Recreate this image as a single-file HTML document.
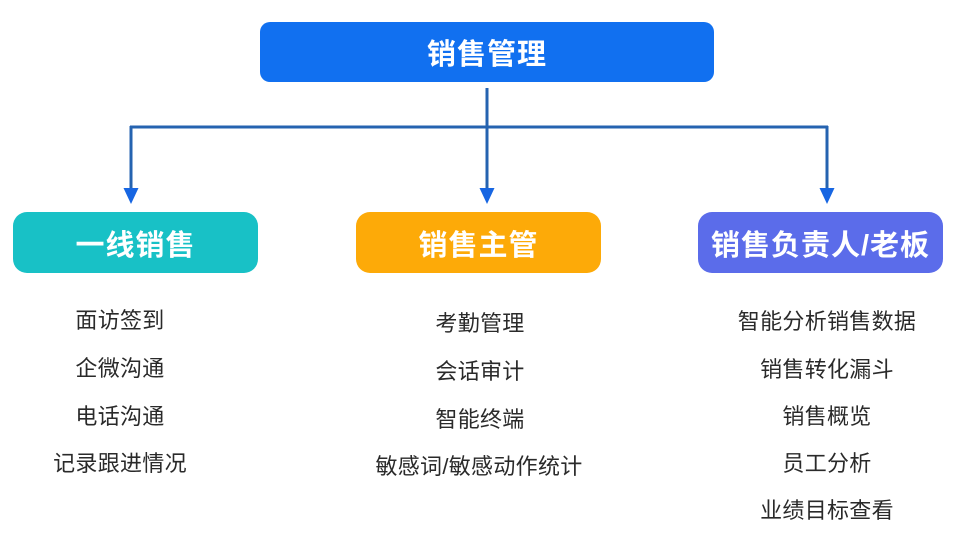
<!DOCTYPE html>
<html><head><meta charset="utf-8"><style>
html,body{margin:0;padding:0;background:#fff;}
body{width:961px;height:536px;position:relative;overflow:hidden;font-family:"Liberation Sans","Noto Sans CJK SC",sans-serif;}
.box{position:absolute;border-radius:10px;color:#fff;font-weight:bold;font-size:29px;display:flex;align-items:center;justify-content:center;letter-spacing:1px;}
.item{position:absolute;font-size:22px;color:#2a2a2a;transform:translate(-50%,-50%);white-space:nowrap;letter-spacing:0.3px;}
</style></head><body>
<svg width="961" height="536" style="position:absolute;left:0;top:0">
<g stroke="#2563B0" stroke-width="3" fill="none">
<line x1="487" y1="88" x2="487" y2="192"/>
<line x1="130" y1="127" x2="828" y2="127"/>
<line x1="131" y1="126" x2="131" y2="192"/>
<line x1="827" y1="126" x2="827" y2="192"/>
</g>
<g fill="#1766E2">
<polygon points="123.5,188 138.5,188 131,204"/>
<polygon points="479.5,188 494.5,188 487,204"/>
<polygon points="819.5,188 834.5,188 827,204"/>
</g>
</svg>
<div class="box" style="left:260px;top:22px;width:454px;height:60px;background:#1170F0;">销售管理</div>
<div class="box" style="left:13px;top:212px;width:245px;height:61px;background:#18C1C6;border-radius:14px;">一线销售</div>
<div class="box" style="left:356px;top:212px;width:245px;height:61px;background:#FDAA08;border-radius:14px;">销售主管</div>
<div class="box" style="left:698px;top:212px;width:245px;height:61px;background:#5B6CEA;border-radius:14px;">销售负责人/老板</div>

<div class="item" style="left:120px;top:319px">面访签到</div>
<div class="item" style="left:120px;top:367px">企微沟通</div>
<div class="item" style="left:120px;top:415px">电话沟通</div>
<div class="item" style="left:120px;top:462px">记录跟进情况</div>

<div class="item" style="left:480px;top:322px">考勤管理</div>
<div class="item" style="left:480px;top:370px">会话审计</div>
<div class="item" style="left:480px;top:418px">智能终端</div>
<div class="item" style="left:479px;top:465px">敏感词/敏感动作统计</div>

<div class="item" style="left:827px;top:320px">智能分析销售数据</div>
<div class="item" style="left:827px;top:368px">销售转化漏斗</div>
<div class="item" style="left:827px;top:415px">销售概览</div>
<div class="item" style="left:827px;top:462px">员工分析</div>
<div class="item" style="left:827px;top:509px">业绩目标查看</div>
</body></html>
